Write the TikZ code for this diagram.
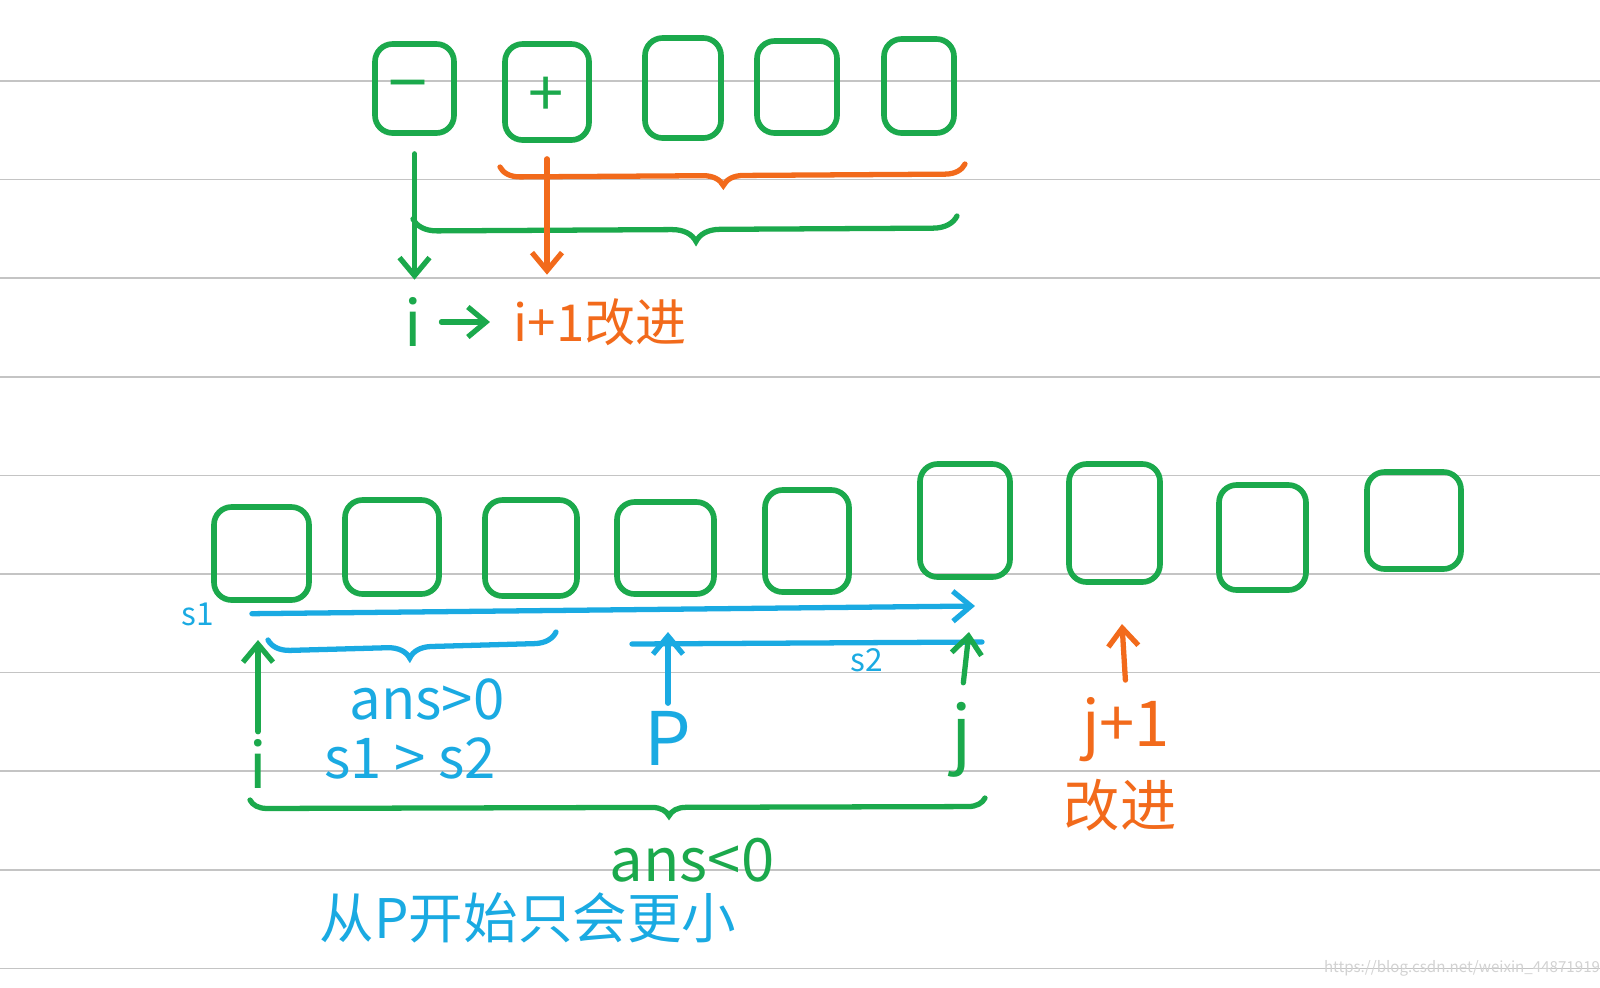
\documentclass[tikz,border=0pt]{standalone}
\usepackage{fontspec}
\usepackage{xcolor}
\usepackage{tikz}
\usetikzlibrary{arrows.meta, positioning, fit, decorations.pathreplacing}
\newfontfamily\cjk{Noto Sans CJK SC}
\definecolor{inkgreen}{HTML}{1BA94C}
\definecolor{inkorange}{HTML}{F26A1B}
\definecolor{inkblue}{HTML}{1AAAE2}
\definecolor{rulegray}{HTML}{C4C4C4}

\begin{document}
\begin{tikzpicture}[
        x=0.01cm, y=-0.01cm,
        cell/.style={draw=inkgreen, line width=1.6pt, rounded corners=5pt, inner sep=0pt},
        note/.style={font=\cjk\fontsize{16}{18}\selectfont, inner sep=2pt},
        small/.style={note, font=\cjk\fontsize{9}{10}\selectfont},
        big/.style={note, font=\cjk\fontsize{21}{23}\selectfont},
        pen/.style={line width=1.5pt, line cap=round},
        arr/.style={pen, -{Straight Barb[length=1.8mm, width=3mm]}},
        curly/.style 2 args={pen, decorate, decoration={brace, mirror, amplitude=#1, aspect=#2}},
        ruling/.style={draw=rulegray, line width=0.5pt}
    ]
    % paper
    \fill[white] (0,0) rectangle (1600,987);
    \useasboundingbox (0,0) rectangle (1600,987);
    \foreach \k in {0,...,9}
        \draw[ruling] (0,81+98.6*\k) -- (1600,81+98.6*\k);

    % top row
    \foreach \n/\l/\t/\r/\b in {1/375/44/454/133, 2/505/44/589/140, 3/645/38/721/138, 4/757/41/837/133, 5/884/39/954/133}
        \node[cell, fit={(\l,\t) (\r,\b)}] (top\n) {};
    \node[note, text=inkgreen, font=\cjk\fontsize{20}{22}\selectfont] (minus) at (408,94) {−};
    \node[note, text=inkgreen, font=\cjk\fontsize{18}{20}\selectfont] (plus) at (546,97) {+};

    \node[note, text=inkgreen, font=\cjk\fontsize{18}{20}\selectfont] (idxI) at (413,322) {i};
    \node[note, text=inkorange, anchor=west, font=\cjk\fontsize{14.5}{17}\selectfont] (nextI) at (506,322) {i+1改进};

    \draw[curly={0.2cm}{0.48}, inkorange] (500,167) -- (965,164);
    \draw[curly={0.24cm}{0.52}, inkgreen] (413,219) -- (957,216);

    \draw[arr, inkgreen, shorten <=0.18cm, shorten >=0.1cm] (top1.south) -- (top1.south |- idxI.north);
    \draw[arr, inkorange, shorten <=0.16cm, shorten >=0.16cm] (top2.south) -- (top2.south |- nextI.north);
    \draw[arr, inkgreen, shorten <=0.12cm, shorten >=0.16cm] (idxI) -- (nextI);

    % bottom row
    \foreach \n/\l/\t/\r/\b in {1/214/507/309/600, 2/345/500/439/594, 3/485/500/577/596, 4/617/502/714/594, 5/765/490/849/592, 6/920/464/1010/577, 7/1069/464/1160/582, 8/1219/485/1306/590, 9/1367/472/1461/569}
        \node[cell, fit={(\l,\t) (\r,\b)}] (bot\n) {};

    \node[small, text=inkblue] (sOne) at (198,614) {s1};
    \coordinate (sOneEnd) at (975,606);
    \draw[arr, inkblue, shorten <=0.3cm] (sOne.east) -- (sOneEnd);

    \draw[curly={0.22cm}{0.49}, inkblue] (268,640) -- (556,632);
    \node[note, text=inkblue] (ansPos) at (427,699) {ans>0};

    \node[note, text=inkgreen, font=\cjk\fontsize{18}{20}\selectfont] (idxII) at (258,764) {i};
    \coordinate (iTip) at (258,640);
    \draw[arr, inkgreen] (idxII.north) -- (iTip);
    \node[note, text=inkblue] (cmp) at (410,758) {s1 > s2};

    \node[big, text=inkblue] (pIdx) at (668,738) {P};
    \coordinate (pTip) at (668,632);
    \draw[arr, inkblue] (pIdx.north) -- (pTip);

    \coordinate (sTwoStart) at (632,644);
    \coordinate (sTwoEnd) at (982,642);
    \draw[pen, inkblue] (sTwoStart) -- node[small, pos=0.67, yshift=-5pt] (sTwo) {s2} (sTwoEnd);

    \node[big, text=inkgreen] (jIdx) at (962,740) {j};
    \coordinate (jTip) at (969,632);
    \draw[arr, inkgreen, shorten <=0.12cm] (jIdx.north) -- (jTip);

    \node[note, text=inkorange, font=\cjk\fontsize{18}{20}\selectfont] (jNext) at (1126,730) {j+1};
    \node[note, text=inkorange] (jBetter) at (1120,805) {改进};
    \coordinate (jnTip) at (1122,624);
    \draw[arr, inkorange, shorten <=0.1cm] (jNext.north) -- (jnTip);

    \draw[curly={0.17cm}{0.57}, inkgreen] (250,800) -- (985,798);
    \node[note, text=inkgreen, font=\cjk\fontsize{17}{19}\selectfont] (ansNeg) at (692,860) {ans<0};

    \node[note, text=inkblue, font=\cjk\fontsize{15.5}{18}\selectfont] (remark) at (528,918) {从P开始只会更小};

    \node[inner sep=0pt, text=gray!35, font=\cjk\fontsize{4.3}{5}\selectfont] (wmark) at (1462,968) {https://blog.csdn.net/weixin\_44871919};
\end{tikzpicture}
\end{document}
